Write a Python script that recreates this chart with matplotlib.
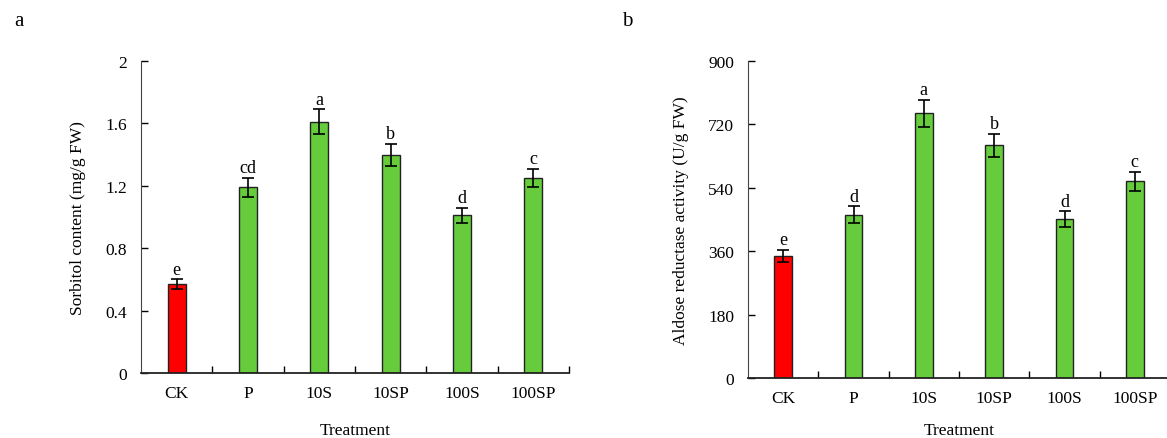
import numpy as np
import matplotlib
matplotlib.use('Agg')
import matplotlib.pyplot as plt

plt.rcParams['font.family'] = ['Liberation Serif', 'DejaVu Serif']

treatments = ['CK', 'P', '10S', '10SP', '100S', '100SP']

sorbitol = [0.57, 1.19, 1.61, 1.40, 1.01, 1.25]
sorbitol_err = [0.03, 0.06, 0.08, 0.07, 0.05, 0.06]
sorbitol_letters = ['e', 'cd', 'a', 'b', 'd', 'c']

aldose = [346, 464, 752, 661, 451, 558]
aldose_err = [18, 23, 38, 33, 22, 27]
aldose_letters = ['e', 'd', 'a', 'b', 'd', 'c']

bar_colors = ['#ff0000'] + ['#66cc3c'] * 5

fig = plt.figure(figsize=(11.67, 4.39), dpi=100)
ax1 = fig.add_axes([141 / 1167, 1 - 374 / 439, 428 / 1167, 312 / 439])
ax2 = fig.add_axes([748 / 1167, 1 - 379 / 439, 422 / 1167, 317 / 439])


def draw(ax, vals, errs, letters, ymax, step, ylabel, fmt, off, xpad):
    x = np.arange(len(treatments))
    ax.bar(x, vals, width=0.25, color=bar_colors, edgecolor='#222222', linewidth=1.0,
           yerr=errs, error_kw=dict(ecolor='black', elinewidth=1.2, capsize=4, capthick=1.2))
    for i in range(len(vals)):
        ax.text(x[i], vals[i] + errs[i] + off, letters[i], ha='center', va='bottom', fontsize=13)
    ax.set_xlim(-0.5, len(treatments) - 0.5)
    ax.set_ylim(0, ymax)
    ticks = np.arange(0, ymax + step / 2, step)
    ax.set_yticks(ticks)
    ax.set_yticklabels([fmt(t) for t in ticks])
    ax.set_xticks(x)
    ax.set_xticklabels(treatments)
    ax.set_xticks(np.arange(0.5, len(treatments), 1), minor=True)
    ax.tick_params(axis='x', which='major', length=0, labelsize=12.5, pad=9)
    ax.tick_params(axis='x', which='minor', length=5, direction='in', width=1)
    ax.tick_params(axis='y', length=5, direction='in', width=1, labelsize=12.5, pad=10)
    for s in ['top', 'right']:
        ax.spines[s].set_visible(False)
    ax.spines['left'].set_color('#444444')
    ax.spines['bottom'].set_color('#222222')
    ax.spines['bottom'].set_linewidth(1.3)
    ax.set_ylabel(ylabel, fontsize=12.5, labelpad=14)
    ax.set_xlabel('Treatment', fontsize=12.5, labelpad=xpad)


draw(ax1, sorbitol, sorbitol_err, sorbitol_letters, 2, 0.4,
     'Sorbitol content (mg/g FW)', lambda t: '0' if t == 0 else ('2' if abs(t - 2) < 1e-9 else f'{t:.1f}'), 0.01, 15)
draw(ax2, aldose, aldose_err, aldose_letters, 900, 180,
     'Aldose reductase activity (U/g FW)', lambda t: f'{int(round(t))}', 5, 11)

fig.text(14 / 1167, 1 - 22 / 439, 'a', fontsize=15, va='center')
fig.text(622 / 1167, 1 - 22 / 439, 'b', fontsize=15, va='center')

fig.savefig('out.png', dpi=100)
